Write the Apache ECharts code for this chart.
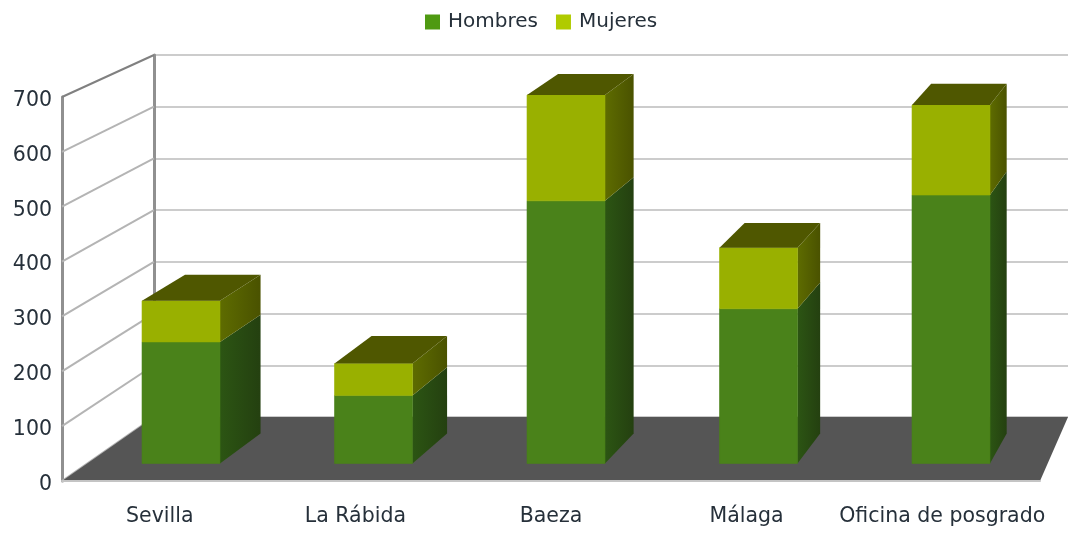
<!DOCTYPE html>
<html>
<head>
<meta charset="utf-8">
<script src="https://cdn.jsdelivr.net/npm/echarts@6/dist/echarts.min.js"></script>
<style>
    html, body { margin: 0; padding: 0; background: #fff; }
    #myChart { width: 1068px; height: 534px; }
</style>
</head>
<body>
<div id="myChart"></div>
<script>
var categories = ['Sevilla', 'La Rábida', 'Baeza', 'Málaga', 'Oficina de posgrado'];
var hombres = [231, 129, 499, 294, 510];
var mujeres = [78, 61, 201, 116, 171];
var yTicks = [0, 100, 200, 300, 400, 500, 600, 700];

var FONT = '"DejaVu Sans", sans-serif';
var TEXT_COLOR = '#26303a';

// fake 3d: push a point towards a vanishing point
var wallDepth = { tx: 0.0654, vx: 1468, ty: 0.0573, vy: -636 };
var barDepth = { tx: 0.031, vx: 1529, ty: 0.0244, vy: -767 };
function back(p, d) {
    return [p[0] + d.tx * (d.vx - p[0]), p[1] + d.ty * (d.vy - p[1])];
}
function hGrad(a, b) {
    return { type: 'linear', x: 0, y: 0, x2: 1, y2: 0, colorStops: [{ offset: 0, color: a }, { offset: 1, color: b }] };
}

function renderFloor(params, api) {
    var c = params.coordSys;
    var fl = [c.x, c.y + c.height];
    var fr = [c.x + c.width, c.y + c.height];
    return {
        type: 'polygon',
        shape: { points: [fl, back(fl, wallDepth), back(fr, wallDepth), fr] },
        style: { fill: '#555555' }
    };
}

function renderWallLine(params, api) {
    var c = params.coordSys;
    var v = api.value(1);
    var p = [c.x, api.coord([0, v])[1]];
    var q = back(p, wallDepth);
    return {
        type: 'line',
        shape: { x1: p[0], y1: p[1], x2: q[0], y2: q[1] },
        style: { stroke: v === 700 ? '#808080' : '#b4b4b4', lineWidth: 2 }
    };
}

function barRenderer(front, side, top) {
    return function (params, api) {
        var i = api.value(0);
        var low = api.coord([i, api.value(1)]);
        var high = api.coord([i, api.value(2)]);
        var w = api.size([1, 0])[0] * 0.405;
        var a = [low[0] - w / 2, low[1]], b = [low[0] + w / 2, low[1]];
        var c = [low[0] + w / 2, high[1]], d = [low[0] - w / 2, high[1]];
        var children = [
            { type: 'polygon', shape: { points: [b, c, back(c, barDepth), back(b, barDepth)] }, style: { fill: side } },
            { type: 'polygon', shape: { points: [a, b, c, d] }, style: { fill: front, stroke: front, lineWidth: 0.6 } }
        ];
        if (top) {
            children.push({ type: 'polygon', shape: { points: [d, c, back(c, barDepth), back(d, barDepth)] }, style: { fill: top } });
        }
        return { type: 'group', children: children };
    };
}

var baseYAxis = { type: 'value', min: 0, max: 700, interval: 100 };

var option = {
    animation: false,
    backgroundColor: '#fff',
    legend: {
        data: ['Hombres', 'Mujeres'],
        top: 7,
        left: 420,
        icon: 'rect',
        itemWidth: 15,
        itemHeight: 15,
        itemGap: 18,
        textStyle: { fontFamily: FONT, fontSize: 20, color: TEXT_COLOR, padding: [0, 0, 0, 3] }
    },
    grid: [
        { left: 62, width: 978, top: 97, height: 384 },   // front plane
        { left: 154, width: 914, top: 55, height: 362 },  // back wall
        { left: 84.75, width: 962.5, top: 95, height: 368.5 }, // plane of the bars
        { left: 62, width: 978, top: 100.5, height: 384 } // only the y labels, they sit a bit low
    ],
    xAxis: [
        {
            gridIndex: 0, type: 'category', data: categories, z: 5,
            axisTick: { show: false },
            axisLine: { lineStyle: { color: '#c4c4c4', width: 2 } },
            axisLabel: { fontFamily: FONT, fontSize: 20.5, color: TEXT_COLOR, margin: 25, interval: 0 }
        },
        { gridIndex: 1, type: 'category', data: categories, show: false },
        { gridIndex: 2, type: 'category', data: categories, show: false },
        { gridIndex: 3, type: 'category', data: categories, show: false }
    ],
    yAxis: [
        Object.assign({}, baseYAxis, {
            gridIndex: 0,
            axisLine: { show: true, lineStyle: { color: '#909090', width: 3 } },
            axisTick: { show: false },
            axisLabel: { show: false },
            splitLine: { show: false }
        }),
        Object.assign({}, baseYAxis, {
            gridIndex: 1,
            axisLine: { show: true, lineStyle: { color: '#909090', width: 3 } },
            axisTick: { show: false },
            axisLabel: { show: false },
            splitLine: { show: true, lineStyle: { color: '#cccccc', width: 2 } }
        }),
        Object.assign({}, baseYAxis, { gridIndex: 2, show: false }),
        Object.assign({}, baseYAxis, {
            gridIndex: 3,
            axisLine: { show: false },
            axisTick: { show: false },
            splitLine: { show: false },
            axisLabel: { fontFamily: FONT, fontSize: 20.5, color: TEXT_COLOR, margin: 10 }
        })
    ],
    series: [
        {
            type: 'custom', xAxisIndex: 0, yAxisIndex: 0, z: 1, silent: true,
            renderItem: renderWallLine,
            data: yTicks.map(function (v) { return [0, v]; })
        },
        {
            type: 'custom', xAxisIndex: 0, yAxisIndex: 0, z: 1, silent: true,
            renderItem: renderFloor,
            data: [[0, 0]]
        },
        {
            name: 'Hombres', type: 'custom', xAxisIndex: 2, yAxisIndex: 2, z: 3, silent: true,
            itemStyle: { color: '#4f9a12' },
            renderItem: barRenderer('#4a821a', hGrad('#2c5513', '#244010'), null),
            encode: { x: 0, y: [1, 2] },
            data: hombres.map(function (h, i) { return [i, 0, h]; })
        },
        {
            name: 'Mujeres', type: 'custom', xAxisIndex: 2, yAxisIndex: 2, z: 3, silent: true,
            itemStyle: { color: '#b0cb00' },
            renderItem: barRenderer('#99b000', hGrad('#5e6c00', '#4a5200'), '#4f5700'),
            encode: { x: 0, y: [1, 2] },
            data: mujeres.map(function (m, i) { return [i, hombres[i], hombres[i] + m]; })
        }
    ]
};

var myChart = echarts.init(document.getElementById('myChart'));
myChart.setOption(option);
</script>
</body>
</html>
